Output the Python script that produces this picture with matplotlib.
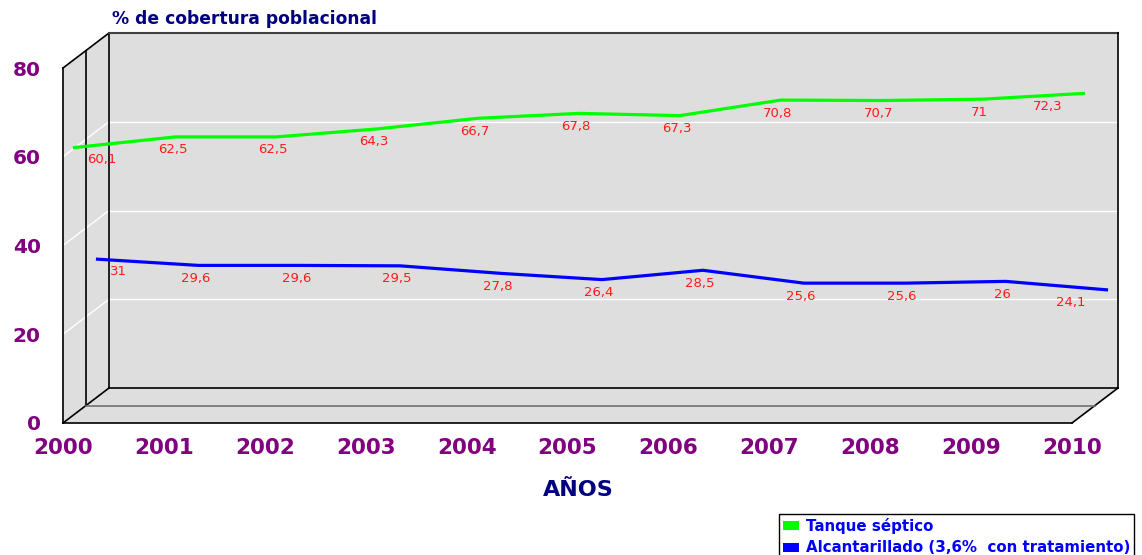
import numpy as np
import matplotlib
matplotlib.use("Agg")
import matplotlib.pyplot as plt
from matplotlib.patches import Patch, Polygon
from matplotlib.transforms import offset_copy

# ---------------- data ----------------
years = ["2000", "2001", "2002", "2003", "2004", "2005", "2006", "2007", "2008", "2009", "2010"]
tanque = [60.1, 62.5, 62.5, 64.3, 66.7, 67.8, 67.3, 70.8, 70.7, 71, 72.3]
alcant = [31, 29.6, 29.6, 29.5, 27.8, 26.4, 28.5, 25.6, 25.6, 26, 24.1]
tanque_lbl = ["60,1", "62,5", "62,5", "64,3", "66,7", "67,8", "67,3", "70,8", "70,7", "71", "72,3"]
alcant_lbl = ["31", "29,6", "29,6", "29,5", "27,8", "26,4", "28,5", "25,6", "25,6", "26", "24,1"]
yticks = [0, 20, 40, 60, 80]
series_names = ["Tanque séptico", "Alcantarillado (3,6%  con tratamiento)"]

# ---------------- figure ----------------
W, H = 1142, 555
fig = plt.figure(figsize=(W / 100, H / 100), dpi=100)
fig.patch.set_facecolor("white")

x0, x1, yb, yt = 63, 1072, 423, 68
ax = fig.add_axes([x0 / W, 1 - yb / H, (x1 - x0) / W, (yb - yt) / H])
n = len(years)
ax.set_xlim(0, n - 1)
ax.set_ylim(0, 80)
ax.patch.set_visible(False)
for s in ax.spines.values():
    s.set_visible(False)

DEPTH = np.array([46.0, 35.0])  # pixel offset of the back wall


def proj(x, y, d):
    p = ax.transData.transform((x, y)) + d * DEPTH
    return ax.transData.inverted().transform(p)


def seg(p, q, **kw):
    a, b = proj(*p), proj(*q)
    ax.plot([a[0], b[0]], [a[1], b[1]], clip_on=False, solid_capstyle="projecting", **kw)


wall = "#DEDEDE"
xm = n - 1
for corners in ([(0, 0, 1), (xm, 0, 1), (xm, 80, 1), (0, 80, 1)],
                [(0, 0, 0), (0, 0, 1), (0, 80, 1), (0, 80, 0)],
                [(0, 0, 0), (xm, 0, 0), (xm, 0, 1), (0, 0, 1)]):
    pts = [proj(*c) for c in corners]
    ax.add_patch(Polygon(pts, closed=True, facecolor=wall, edgecolor="none", clip_on=False, zorder=0))

# gridlines
for v in yticks[1:-1]:
    seg((0, v, 1), (xm, v, 1), color="white", lw=1.0, zorder=1)
    seg((0, v, 0), (0, v, 1), color="white", lw=1.0, zorder=1)

# box edges
k = dict(color="black", lw=1.2, zorder=2)
seg((0, 0, 0), (0, 80, 0), **k)
seg((0, 80, 0), (0, 80, 1), **k)
seg((0, 0, 0.5), (0, 80, 0.5), **k)
seg((0, 0, 1), (0, 80, 1), **k)
seg((0, 80, 1), (xm, 80, 1), color="#404040", lw=1.5, zorder=2)
seg((xm, 0, 1), (xm, 80, 1), **k)
seg((0, 0, 1), (xm, 0, 1), **k)
seg((0, 0, 0), (xm, 0, 0), **k)
seg((0, 0, 0), (0, 0, 1), **k)
seg((xm, 0, 0), (xm, 0, 1), **k)
seg((0, 0, 0.5), (xm, 0, 0.5), color="#707070", lw=1.2, zorder=2)

# series
xs = np.arange(n)
for vals, lbls, col, d, z in ((alcant, alcant_lbl, "#0000FF", 0.75, 3),
                              (tanque, tanque_lbl, "#00FF00", 0.25, 4)):
    tr = offset_copy(ax.transData, fig=fig, x=d * DEPTH[0], y=d * DEPTH[1], units="dots")
    ax.plot(xs, vals, color=col, lw=2.3, transform=tr, clip_on=False, zorder=z)
    for i, (v, t) in enumerate(zip(vals, lbls)):
        if i == 0:
            off = (27 if d < 0.5 else 21, -12)
        elif i == n - 1:
            off = (-36, -13)
        else:
            off = (-3, -13)
        ax.annotate(t, (i, v), xycoords=tr, xytext=off, textcoords="offset pixels",
                    ha="center", va="center", color="#FF1A1A", fontsize=9.5,
                    family="DejaVu Sans", zorder=5, annotation_clip=False)

# ticks
ax.set_xticks(xs)
ax.set_xticklabels(years)
ax.set_yticks(yticks)
ax.set_yticklabels([str(v) for v in yticks])
ax.tick_params(axis="both", length=0, colors="#800080")
ax.tick_params(axis="x", pad=11, labelsize=15.5)
ax.tick_params(axis="y", pad=16, labelsize=14.5)
for lab in ax.get_xticklabels() + ax.get_yticklabels():
    lab.set_fontweight("bold")
    lab.set_family("DejaVu Sans")

# titles
fig.text(245 / W, 1 - 18.5 / H, "% de cobertura poblacional", ha="center", va="center",
         color="#000080", fontsize=12.3, fontweight="bold", family="DejaVu Sans")
fig.text(578 / W, 1 - 490 / H, "AÑOS", ha="center", va="center",
         color="#000080", fontsize=16, fontweight="bold", family="DejaVu Sans")

# legend
handles = [Patch(facecolor="#00FF00", edgecolor="none"), Patch(facecolor="#0000FF", edgecolor="none")]
leg = fig.legend(handles, series_names, loc="upper left",
                 bbox_to_anchor=(779 / W, 1 - 514 / H), bbox_transform=fig.transFigure,
                 frameon=True, fancybox=False, edgecolor="black", framealpha=1,
                 borderpad=0.25, handlelength=1.1, handleheight=0.55, handletextpad=0.45,
                 labelspacing=0.45, borderaxespad=0,
                 prop=dict(weight="bold", size=10.8, family="DejaVu Sans"), labelcolor="#0000FF")
leg.get_frame().set_linewidth(1.0)

fig.savefig("out.png", dpi=100)
